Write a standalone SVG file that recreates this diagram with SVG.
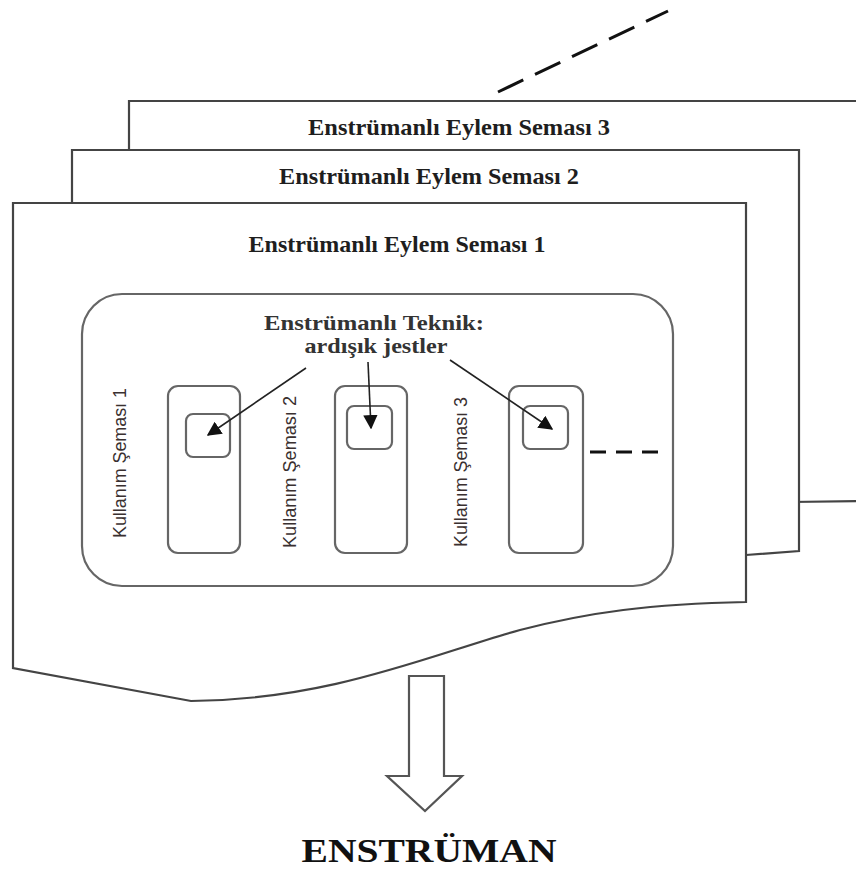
<svg xmlns="http://www.w3.org/2000/svg" width="856" height="877" viewBox="0 0 856 877">
<defs>
<style>
.page{fill:#fff;stroke:#444;stroke-width:2.2}
.box{fill:#fff;stroke:#666;stroke-width:2.2}
.head{font-family:"Liberation Serif","Times New Roman",serif;font-weight:bold;font-size:23px;fill:#1e1e1e;text-anchor:middle}
.tek{font-family:"Liberation Serif","Times New Roman",serif;font-weight:bold;font-size:21px;fill:#333;text-anchor:middle}
.kul{font-family:"Liberation Sans Narrow","Liberation Sans",Arial,sans-serif;font-size:19px;fill:#3a3030;text-anchor:middle}
.dash{fill:none;stroke:#111;stroke-width:3}
.conn{fill:none;stroke:#222;stroke-width:1.6}
</style>
<marker id="ah" viewBox="0 0 10 10" refX="9" refY="5" markerWidth="9" markerHeight="9" markerUnits="strokeWidth" orient="auto">
<path d="M0,0 L10,5 L0,10 z" fill="#111"/>
</marker>
</defs>
<rect width="856" height="877" fill="#fff"/>

<g id="dashed-top">
<line class="dash" x1="498" y1="92" x2="668" y2="11" stroke-dasharray="28 13"/>
</g>

<g id="page3">
<path class="page" d="M129,101 H862 V501 L790,502 H129 Z"/>
<text class="head" x="459" y="135" textLength="302" lengthAdjust="spacingAndGlyphs">Enstrümanlı Eylem Seması 3</text>
</g>

<g id="page2">
<path class="page" d="M72,150 H799 V551 L746,555 L72,560 Z"/>
<text class="head" x="429" y="184" textLength="300" lengthAdjust="spacingAndGlyphs">Enstrümanlı Eylem Seması 2</text>
</g>

<g id="page1">
<path class="page" d="M13,203 H746 V602 C650,604 590,612 520,630 C430,655 330,700 191,701 L13,668 Z"/>
<text class="head" x="397" y="252" textLength="297" lengthAdjust="spacingAndGlyphs">Enstrümanlı Eylem Seması 1</text>
</g>

<g id="teknik-group">
<rect class="box" x="82" y="294" width="591" height="292" rx="40" ry="40"/>
<text class="tek" x="374" y="330" textLength="220" lengthAdjust="spacingAndGlyphs">Enstrümanlı Teknik:</text>
<text class="tek" x="376" y="353" textLength="143" lengthAdjust="spacingAndGlyphs">ardışık jestler</text>
</g>

<g id="kullanim1">
<text class="kul" transform="translate(126,463) rotate(-90)" textLength="150" lengthAdjust="spacingAndGlyphs">Kullanım Şeması 1</text>
<rect class="box" x="168" y="386" width="72" height="167" rx="10"/>
<rect class="box" x="186" y="414" width="44" height="43" rx="7"/>
</g>

<g id="kullanim2">
<text class="kul" transform="translate(296,472) rotate(-90)" textLength="152" lengthAdjust="spacingAndGlyphs">Kullanım Şeması 2</text>
<rect class="box" x="335" y="386" width="72" height="167" rx="10"/>
<rect class="box" x="347" y="406" width="45" height="43" rx="7"/>
</g>

<g id="kullanim3">
<text class="kul" transform="translate(467,472) rotate(-90)" textLength="150" lengthAdjust="spacingAndGlyphs">Kullanım Şeması 3</text>
<rect class="box" x="509" y="386" width="74" height="167" rx="10"/>
<rect class="box" x="523" y="406" width="45" height="43" rx="7"/>
</g>

<g id="connectors">
<line class="conn" x1="306" y1="368" x2="208" y2="435" marker-end="url(#ah)"/>
<line class="conn" x1="368" y1="362" x2="371" y2="428" marker-end="url(#ah)"/>
<line class="conn" x1="450" y1="360" x2="552" y2="429" marker-end="url(#ah)"/>
<line class="dash" x1="590" y1="452" x2="658" y2="452" stroke-dasharray="16 10"/>
</g>

<g id="big-arrow">
<path d="M409,676 H444 V776 H462 L425,811 L387,776 H409 Z" fill="#fff" stroke="#555" stroke-width="2.2" stroke-linejoin="miter"/>
</g>

<g id="enstruman">
<text x="429" y="862" font-family="'Liberation Serif','Times New Roman',serif" font-weight="bold" font-size="33" fill="#111" text-anchor="middle" textLength="255" lengthAdjust="spacingAndGlyphs">ENSTRÜMAN</text>
</g>
</svg>
